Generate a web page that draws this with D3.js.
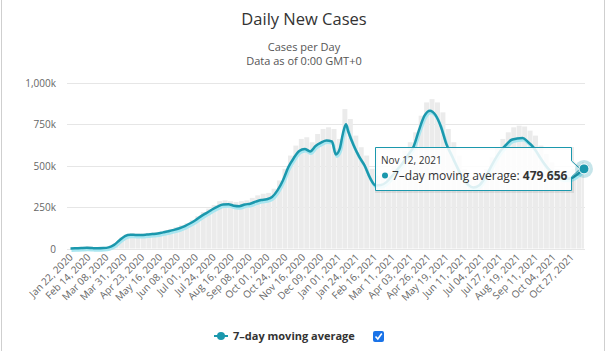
<!DOCTYPE html>
<html>
<head>
<meta charset="utf-8">
<script src="https://cdn.jsdelivr.net/npm/d3@7"></script>
<style>
  body { margin: 0; background: #fff; }
  svg { display: block; font-family: "Open Sans", "DejaVu Sans", sans-serif; }
</style>
</head>
<body>
<svg id="chart"></svg>
<script>
// 7-day moving average, sampled weekly (plus a few extra points around the Jan 2021 peak)
var avgDates = [
  '2020-01-22','2020-01-29','2020-02-05','2020-02-12','2020-02-19','2020-02-26','2020-03-04','2020-03-11',
  '2020-03-18','2020-03-25','2020-04-01','2020-04-08','2020-04-15','2020-04-22','2020-04-29','2020-05-06',
  '2020-05-13','2020-05-20','2020-05-27','2020-06-03','2020-06-10','2020-06-17','2020-06-24','2020-07-01',
  '2020-07-08','2020-07-15','2020-07-22','2020-07-29','2020-08-05','2020-08-12','2020-08-19','2020-08-26',
  '2020-09-02','2020-09-09','2020-09-16','2020-09-23','2020-09-30','2020-10-07','2020-10-14','2020-10-21',
  '2020-10-28','2020-11-04','2020-11-11','2020-11-18','2020-11-25','2020-12-02','2020-12-09','2020-12-16',
  '2020-12-23','2020-12-28','2021-01-02','2021-01-06','2021-01-10','2021-01-13','2021-01-20','2021-01-27',
  '2021-02-03','2021-02-10','2021-02-17','2021-02-24','2021-03-03','2021-03-10','2021-03-17','2021-03-24',
  '2021-03-31','2021-04-07','2021-04-14','2021-04-21','2021-04-28','2021-05-05','2021-05-12','2021-05-19',
  '2021-05-26','2021-06-02','2021-06-09','2021-06-16','2021-06-23','2021-06-30','2021-07-07','2021-07-14',
  '2021-07-21','2021-07-28','2021-08-04','2021-08-11','2021-08-18','2021-08-25','2021-09-01','2021-09-08',
  '2021-09-15','2021-09-22','2021-09-29','2021-10-06','2021-10-13','2021-10-20','2021-10-27','2021-11-03',
  '2021-11-10','2021-11-12'
];
var avgValues = [
  600, 1500, 3000, 4000, 2500, 1500, 2500, 7000,
  22000, 50000, 75000, 83000, 82000, 82000, 84000, 87000,
  90000, 97000, 104000, 112000, 122000, 135000, 152000, 172000,
  195000, 215000, 235000, 252000, 265000, 266000, 258000, 255000,
  265000, 270000, 282000, 292000, 297000, 310000, 350000, 410000,
  490000, 545000, 588000, 600000, 585000, 618000, 638000, 650000,
  645000, 567000, 600000, 690000, 748000, 705000, 620000, 553000,
  500000, 425000, 380000, 382000, 400000, 435000, 475000, 515000,
  565000, 615000, 715000, 800000, 830000, 805000, 735000, 630000,
  560000, 490000, 425000, 385000, 368000, 380000, 420000, 480000,
  540000, 590000, 625000, 655000, 662000, 665000, 642000, 610000,
  560000, 510000, 470000, 442000, 425000, 420000, 425000, 445000,
  472000, 479656
];

// daily new cases, highest day of each week (weeks starting 2020-01-22)
var weekStart = '2020-01-22';
var weekPeaks = [
  1000, 2500, 4000, 15000, 3000, 2500, 3500, 12000, 32000, 65000,
  85000, 92000, 90000, 90000, 94000, 98000, 100000, 108000, 118000, 128000,
  140000, 152000, 172000, 195000, 220000, 240000, 262000, 285000, 290000, 285000,
  280000, 285000, 290000, 305000, 320000, 330000, 335000, 360000, 410000, 480000,
  560000, 620000, 660000, 670000, 640000, 690000, 720000, 730000, 720000, 660000,
  840000, 780000, 680000, 610000, 560000, 480000, 440000, 445000, 460000, 500000,
  540000, 590000, 640000, 700000, 800000, 880000, 900000, 880000, 820000, 720000,
  640000, 560000, 480000, 430000, 410000, 440000, 480000, 550000, 610000, 660000,
  700000, 730000, 740000, 735000, 710000, 680000, 620000, 570000, 520000, 480000,
  470000, 470000, 480000, 500000, 520000
];

var yTicks = [0, 250000, 500000, 750000, 1000000];
var seriesName = '7-day moving average';

var W = 608, H = 351;
var teal = '#1b98ad';
var parse = d3.timeParse('%Y-%m-%d');
var start = parse(avgDates[0]), end = parse(avgDates[avgDates.length - 1]);

var svg = d3.select('#chart').attr('width', W).attr('height', H);
svg.append('rect').attr('width', W).attr('height', H).attr('fill', '#fff');

// outer frame
svg.append('line').attr('x1', 1.5).attr('x2', 1.5).attr('y1', 0).attr('y2', H).attr('stroke', '#cfcfcf');
svg.append('line').attr('x1', 604.5).attr('x2', 604.5).attr('y1', 0).attr('y2', H).attr('stroke', '#cfcfcf');

var x = d3.scaleTime().domain([start, end]).range([70.5, 584]);
var y = d3.scaleLinear().domain([0, 1000000]).range([248.5, 82.5]);

// titles
svg.append('text').attr('x', 304).attr('y', 25).attr('text-anchor', 'middle')
  .attr('font-size', 16.5).attr('fill', '#333').text('Daily New Cases');
svg.append('text').attr('x', 304).attr('y', 51).attr('text-anchor', 'middle')
  .attr('font-size', 11).attr('fill', '#555').text('Cases per Day');
svg.append('text').attr('x', 304).attr('y', 65).attr('text-anchor', 'middle')
  .attr('font-size', 11).attr('fill', '#555').text('Data as of 0:00 GMT+0');

// grid + y labels
svg.append('g').selectAll('line').data(yTicks).enter().append('line')
  .attr('x1', 67).attr('x2', 585)
  .attr('y1', function (d) { return Math.round(y(d)) + 0.5; })
  .attr('y2', function (d) { return Math.round(y(d)) + 0.5; })
  .attr('stroke', '#e6e6e6');
svg.append('g').selectAll('text').data(yTicks).enter().append('text')
  .attr('x', 56).attr('y', function (d) { return y(d) + 4; })
  .attr('text-anchor', 'end').attr('font-size', 10).attr('fill', '#666')
  .text(function (d) { return d === 0 ? '0' : d3.format(',')(d / 1000) + 'k'; });

// weekly bars
var day = 24 * 3600 * 1000;
var w0 = parse(weekStart);
svg.append('g').selectAll('rect').data(weekPeaks).enter().append('rect')
  .attr('x', function (d, i) { return x(new Date(+w0 + i * 7 * day - day / 2)); })
  .attr('width', function (d, i) {
    var a = new Date(+w0 + i * 7 * day - day / 2);
    var b = new Date(Math.min(+w0 + (i * 7 + 6) * day + day / 2, +end + day / 2));
    return Math.max(0, x(b) - x(a) - 0.5);
  })
  .attr('y', function (d) { return y(d); })
  .attr('height', function (d) { return y(0) - y(d); })
  .attr('fill', '#ebebeb');

// x axis labels
var ticks = d3.range(0, 29).map(function (i) { return new Date(+start + i * 23 * day); });
var fmt = d3.timeFormat('%b %d, %Y');
svg.append('g').selectAll('text').data(ticks).enter().append('text')
  .attr('transform', function (d) { return 'translate(' + (x(d) + 3) + ',258) rotate(-45)'; })
  .attr('text-anchor', 'end').attr('font-size', 10).attr('fill', '#666')
  .text(function (d) { return fmt(d); });

// moving average line
var pts = avgDates.map(function (d, i) { return [parse(d), avgValues[i]]; });
var line = d3.line()
  .x(function (d) { return x(d[0]); })
  .y(function (d) { return y(d[1]); })
  .curve(d3.curveMonotoneX);
svg.append('path').datum(pts).attr('d', line).attr('fill', 'none')
  .attr('stroke', '#a9e6f0').attr('stroke-width', 3).attr('transform', 'translate(1,2)');
svg.append('path').datum(pts).attr('d', line).attr('fill', 'none')
  .attr('stroke', teal).attr('stroke-width', 2.5).attr('stroke-linejoin', 'round');

// tooltip
var last = pts[pts.length - 1];
var mx = x(last[0]), my = y(last[1]);
var tip = 'M375.5,147.5 H571.5 V' + (my - 8) + ' L' + (mx - 4) + ',' + my + ' L571.5,' + (my + 8) + ' V190.5 H375.5 Z';
svg.append('path').attr('d', tip).attr('fill', 'none').attr('stroke', 'rgba(0,0,0,0.08)')
  .attr('stroke-width', 3).attr('transform', 'translate(1,1)');
svg.append('path').attr('d', tip).attr('fill', 'rgba(255,255,255,0.85)').attr('stroke', teal);
svg.append('text').attr('x', 381).attr('y', 163.5).attr('font-size', 10).attr('fill', '#333')
  .text(d3.timeFormat('%b %d, %Y')(last[0]));
svg.append('circle').attr('cx', 385).attr('cy', 175.5).attr('r', 3).attr('fill', teal);
var t2 = svg.append('text').attr('x', 392).attr('y', 179.5).attr('font-size', 12).attr('fill', '#333');
t2.append('tspan').text(seriesName.replace('-', '\u2013') + ': ');
t2.append('tspan').attr('font-weight', 'bold').text(d3.format(',')(last[1]));

// hover marker
svg.append('circle').attr('cx', mx).attr('cy', my).attr('r', 9).attr('fill', teal).attr('opacity', 0.25);
svg.append('circle').attr('cx', mx).attr('cy', my).attr('r', 5).attr('fill', teal).attr('stroke', '#fff');

// legend
svg.append('line').attr('x1', 214).attr('x2', 228).attr('y1', 336).attr('y2', 336)
  .attr('stroke', teal).attr('stroke-width', 2);
svg.append('circle').attr('cx', 221).attr('cy', 336).attr('r', 4).attr('fill', teal);
svg.append('text').attr('x', 233).attr('y', 340).attr('font-size', 11).attr('font-weight', 'bold')
  .attr('fill', '#333').text(seriesName.replace('-', '\u2013'));
svg.append('rect').attr('x', 373).attr('y', 331).attr('width', 11).attr('height', 11).attr('rx', 2)
  .attr('fill', '#1a73e8');
svg.append('path').attr('d', 'M375.5,336.5 L377.8,339 L381.8,333.5').attr('fill', 'none')
  .attr('stroke', '#fff').attr('stroke-width', 1.6);
</script>
</body>
</html>
